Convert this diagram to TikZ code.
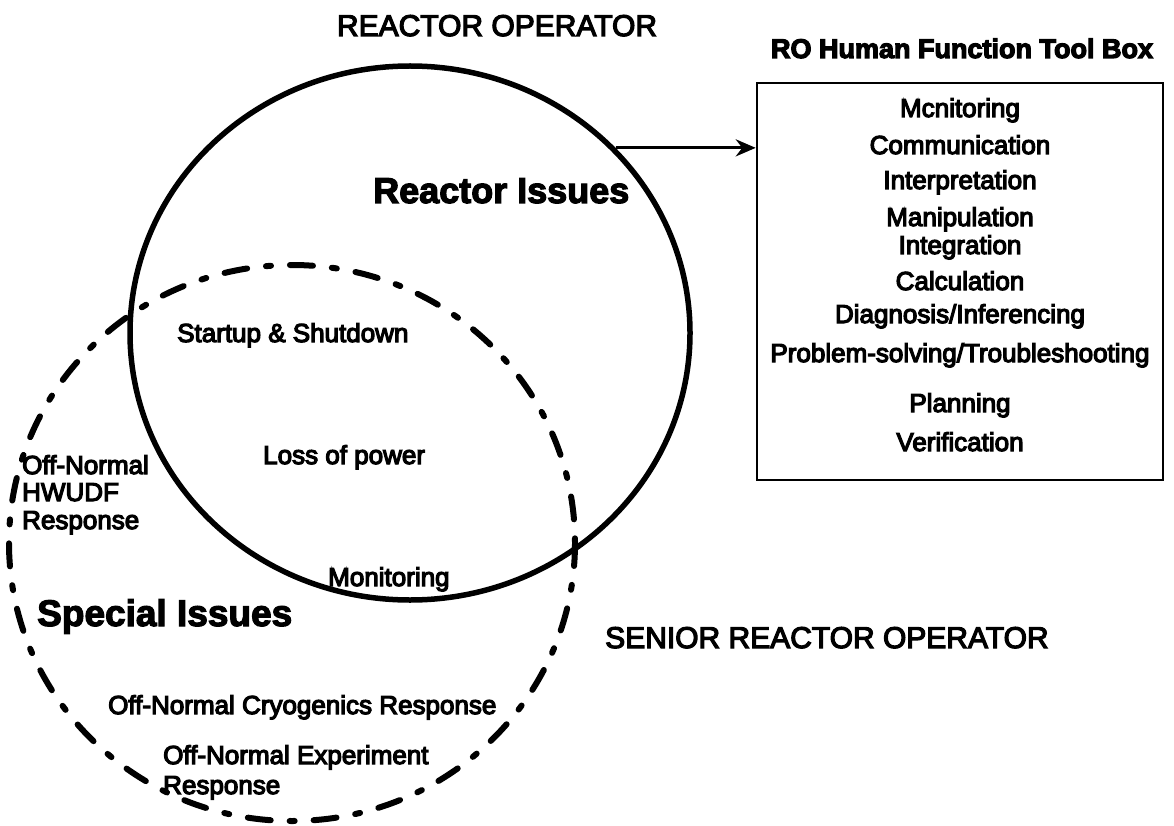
\documentclass[tikz,border=0pt]{standalone}
\usepackage{fontspec}
\setmainfont{Liberation Sans}
\usetikzlibrary{shapes.geometric,arrows.meta}

% text drawn with fill and a thin outline stroke, giving a heavier ink
\newcommand\inked[1]{\special{pdf:literal direct 2 Tr 1.2 w}#1\special{pdf:literal direct 0 Tr}}

\tikzset{
  ringsolid/.style={draw, ellipse, line width=5.5pt, inner sep=0pt},
  ringdash/.style={line width=6pt, line cap=round,
    dash pattern=on 23pt off 19pt on 5pt off 19pt},
  toolbox/.style={draw, rectangle, line width=2.5pt, inner sep=0pt},
  headline/.style={font=\fontsize{30}{32}\selectfont, anchor=base west, inner sep=0pt},
  bigtitle/.style={font=\fontsize{36}{38}\selectfont\bfseries, anchor=base west, inner sep=0pt},
  boxtitle/.style={font=\fontsize{27}{29}\selectfont\bfseries, anchor=base, inner sep=0pt},
  label/.style={font=\fontsize{26}{28}\selectfont, anchor=base west, inner sep=0pt},
  tool/.style={font=\fontsize{26}{28}\selectfont, anchor=base, inner sep=0pt},
  flow/.style={line width=3pt, -{Stealth[length=20pt,width=17pt]}}
}

\begin{document}
\begin{tikzpicture}[x=1pt, y=-1pt]
  \useasboundingbox (0,0) rectangle (1174,826);

  % role captions
  \node[headline, anchor=base] (ro) at (497,36) {\inked{REACTOR OPERATOR}};
  \node[headline] (sro) at (605,648) {\inked{SENIOR REACTOR OPERATOR}};

  % reactor operator domain and special issues domain
  \node[ringsolid, minimum width=560pt, minimum height=534pt] (reactor) at (410,333) {};
  \draw[ringdash] (292,543) ellipse [x radius=283, y radius=278];

  \node[bigtitle] (rissues) at (373,203) {\inked{Reactor Issues}};
  \node[bigtitle, font=\fontsize{37}{39}\selectfont\bfseries] (sissues) at (37,626) {\inked{Special Issues}};

  % shared tasks
  \node[label] (startup) at (177,342) {\inked{Startup \& Shutdown}};
  \node[label] (lop) at (263,464) {\inked{Loss of power}};
  \node[label] (mon) at (328,586) {\inked{Monitoring}};

  % special tasks
  \node[label] (hwudf) at (22,474) {\inked{Off-Normal}};
  \node[label] (hwudf2) at (22,501) {\inked{HWUDF}};
  \node[label] (hwudf3) at (22,529) {\inked{Response}};
  \node[label] (cryo) at (108,714) {\inked{Off-Normal Cryogenics Response}};
  \node[label] (expt) at (163,764) {\inked{Off-Normal Experiment}};
  \node[label] (expt2) at (163,794) {\inked{Response}};

  % tool box
  \node[boxtitle] (tbtitle) at (962,58) {\inked{RO Human Function Tool Box}};
  \node[toolbox, minimum width=406pt, minimum height=397pt] (box) at (960,281.5) {};
  \node[tool] (t1) at (960,117) {\inked{Mcnitoring}};
  \node[tool] (t2) at (960,154) {\inked{Communication}};
  \node[tool] (t3) at (960,189) {\inked{Interpretation}};
  \node[tool] (t4) at (960,226) {\inked{Manipulation}};
  \node[tool] (t5) at (960,254) {\inked{Integration}};
  \node[tool] (t6) at (960,290) {\inked{Calculation}};
  \node[tool] (t7) at (960,323) {\inked{Diagnosis/Inferencing}};
  \node[tool] (t8) at (960,362) {\inked{Problem-solving/Troubleshooting}};
  \node[tool] (t9) at (960,412) {\inked{Planning}};
  \node[tool] (t10) at (960,451) {\inked{Verification}};

  % link from the reactor domain to the tool box
  \draw[flow] (reactor.42) -- (reactor.42 -| box.west);
\end{tikzpicture}
\end{document}
